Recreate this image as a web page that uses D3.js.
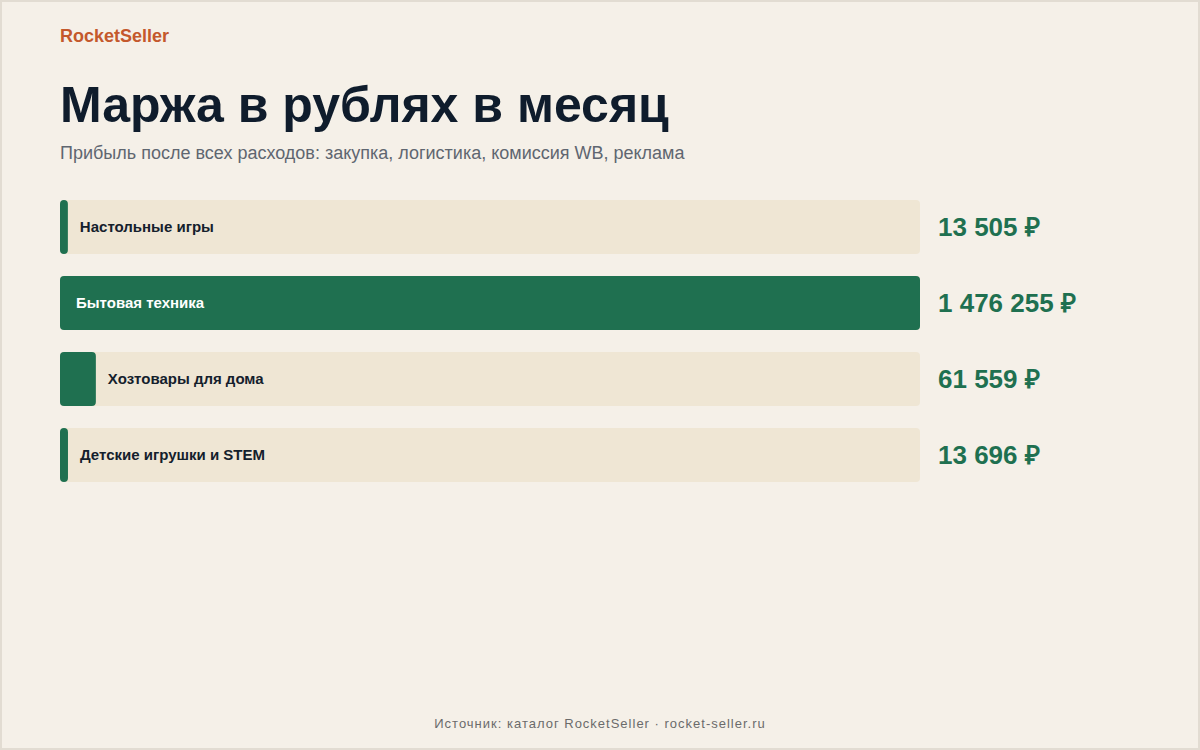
<!DOCTYPE html>
<html><head><meta charset="utf-8">
<script src="https://cdn.jsdelivr.net/npm/d3@7"></script>
<style>
html,body{margin:0;padding:0;background:#f5f0e8;}
svg{display:block;font-family:"Liberation Sans",Arial,sans-serif;}
</style></head>
<body><div id="chart"></div>
<script>
var categories = ["Настольные игры", "Бытовая техника", "Хозтовары для дома", "Детские игрушки и STEM"];
var values = [13505, 1476255, 61559, 13696];

var w = 1200, h = 750;
var svg = d3.select("#chart").append("svg").attr("width", w).attr("height", h);

svg.append("rect").attr("x", 1).attr("y", 1).attr("width", w - 2).attr("height", h - 2)
    .attr("fill", "#f5f0e8").attr("stroke", "#e2dcd2").attr("stroke-width", 2);

svg.append("text").attr("x", 60).attr("y", 42).text("RocketSeller")
    .attr("font-size", 18).attr("font-weight", "bold").attr("fill", "#c4582c");
svg.append("text").attr("x", 60).attr("y", 122).text("Маржа в рублях в месяц")
    .attr("font-size", 50).attr("font-weight", "bold").attr("fill", "#0f1c2c");
svg.append("text").attr("x", 60).attr("y", 159).text("Прибыль после всех расходов: закупка, логистика, комиссия WB, реклама")
    .attr("font-size", 18).attr("fill", "#5f6670");

var x = d3.scaleLinear().domain([0, d3.max(values)]).range([0, 860]);
var y = d3.scaleBand().domain(categories).range([200, 504]).paddingInner(22 / 76).paddingOuter(0);
// band step 76, bar height 54
y = d3.scaleBand().domain(categories).range([200, 200 + 76 * 4 - 22]).paddingInner(22 / 76);

var fmt = function (v) { return d3.format(",")(v).replace(/,/g, " ") + " ₽"; };

var g = svg.selectAll("g.row").data(categories).enter().append("g").attr("class", "row");
g.append("rect").attr("x", 60).attr("y", function (d) { return y(d); })
    .attr("width", 860).attr("height", y.bandwidth()).attr("rx", 4).attr("fill", "#efe6d4");
g.append("rect").attr("x", 60).attr("y", function (d) { return y(d); })
    .attr("width", function (d, i) { return x(values[i]); }).attr("height", y.bandwidth())
    .attr("rx", 4).attr("fill", "#1f7050");
g.append("text")
    .attr("x", function (d, i) { var bw = x(values[i]); return bw > 300 ? 76 : 60 + bw + 12; })
    .attr("y", function (d) { return y(d) + y.bandwidth() / 2 + 5; })
    .attr("font-size", 15).attr("font-weight", "bold")
    .attr("fill", function (d, i) { return x(values[i]) > 300 ? "#ffffff" : "#14202c"; })
    .text(function (d) { return d; });
g.append("text").attr("x", 938).attr("y", function (d) { return y(d) + y.bandwidth() / 2 + 9; })
    .attr("font-size", 26).attr("font-weight", "bold").attr("fill", "#1f7050")
    .text(function (d, i) { return fmt(values[i]); });

svg.append("text").attr("x", 600).attr("y", 728).attr("text-anchor", "middle")
    .attr("font-size", 13).attr("letter-spacing", 1).attr("fill", "#6b6b6b")
    .text("Источник: каталог RocketSeller · rocket-seller.ru");
</script></body></html>
